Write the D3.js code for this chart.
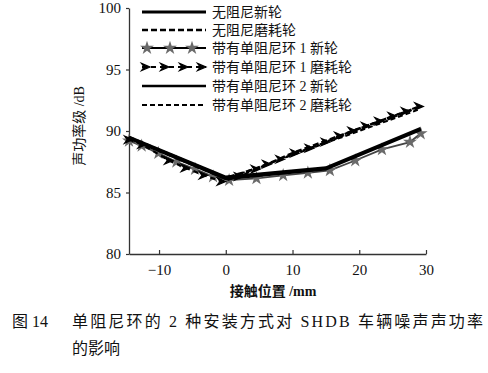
<!DOCTYPE html>
<html>
<head>
<meta charset="utf-8">
<script src="https://cdn.jsdelivr.net/npm/d3@7"></script>
<style>
  body { margin: 0; background: #fff; }
  text { font-family: "Liberation Serif", "Noto Sans CJK SC", serif; fill: #111; }
</style>
</head>
<body>
<script>
const width = 488;
const height = 373;

// series: x positions (mm) and sound power levels (dB)
const noDampNewX = [-14.5, 0, 5, 15, 29.2];
const noDampNewY = [89.5, 86.25, 86.5, 87.0, 90.2];
const noDampWornX = [-14.5, 0, 5, 10, 20, 29.2];
const noDampWornY = [89.5, 86.2, 87.0, 88.2, 90.2, 92.0];
const ring1NewX = [-14.5, -12.6, -10.1, -7.4, -4.6, -1.9, 0.5, 4.6, 8.6, 12.3, 15.6, 19.4, 23.4, 27.6, 29.2];
const ring1NewY = [89.2, 88.8, 88.2, 87.5, 86.9, 86.3, 86.0, 86.15, 86.4, 86.6, 86.8, 87.6, 88.5, 89.1, 89.8];
const ring1WornX = [-14.5, -12.5, -8.5, -6, -3.3, -0.6, 2, 4.5, 6.2, 8.2, 10.4, 12.6, 15, 17, 19, 21, 23, 25, 27, 29];
const ring1WornY = [89.3, 88.9, 87.6, 87.0, 86.4, 85.9, 86.3, 86.9, 87.3, 87.7, 88.2, 88.6, 89.1, 89.6, 90.0, 90.4, 90.8, 91.2, 91.6, 92.0];
const ring2NewX = [-14.5, 0, 15, 29.2];
const ring2NewY = [89.4, 86.1, 86.9, 90.1];
const ring2WornX = [-14.5, 0, 29.2];
const ring2WornY = [89.4, 86.1, 91.8];

const seriesNames = [
  "无阻尼新轮",
  "无阻尼磨耗轮",
  "带有单阻尼环 1 新轮",
  "带有单阻尼环 1 磨耗轮",
  "带有单阻尼环 2 新轮",
  "带有单阻尼环 2 磨耗轮"
];
const xTicks = [-10, 0, 10, 20, 30];
const yTicks = [80, 85, 90, 95, 100];

const zip = (xs, ys) => xs.map((x, i) => [x, ys[i]]);

const series = [
  { name: seriesNames[0], data: zip(noDampNewX, noDampNewY), width: 3.2, dash: null, marker: null },
  { name: seriesNames[1], data: zip(noDampWornX, noDampWornY), width: 2.6, dash: "6,3", marker: null },
  { name: seriesNames[2], data: zip(ring1NewX, ring1NewY), width: 1.8, dash: null, marker: "star" },
  { name: seriesNames[3], data: zip(ring1WornX, ring1WornY), width: 2.2, dash: "5,4", marker: "arrow" },
  { name: seriesNames[4], data: zip(ring2NewX, ring2NewY), width: 2.6, dash: null, marker: null },
  { name: seriesNames[5], data: zip(ring2WornX, ring2WornY), width: 2, dash: "5,3", marker: null }
];

const x = d3.scaleLinear().domain([-14.5, 30]).range([129, 426]);
const y = d3.scaleLinear().domain([80, 100]).range([254, 8]);

const svg = d3.select("body").append("svg")
  .attr("width", width)
  .attr("height", height);

// axes
const xAxis = svg.append("g")
  .attr("transform", "translate(0," + y(80) + ")")
  .call(d3.axisBottom(x).tickValues(xTicks).tickSizeInner(-4).tickSizeOuter(0)
    .tickFormat(d => d < 0 ? "\u2212" + Math.abs(d) : d));
xAxis.select(".domain").attr("stroke", "#333").attr("stroke-width", 1.3);
xAxis.selectAll(".tick line").attr("stroke", "#333").attr("stroke-width", 1.2);
xAxis.selectAll(".tick text").attr("y", 10).attr("font-size", 15);

const yAxis = svg.append("g")
  .attr("transform", "translate(" + x(-14.5) + ",0)")
  .call(d3.axisLeft(y).tickValues(yTicks).tickSizeInner(3).tickSizeOuter(0));
yAxis.select(".domain").attr("stroke", "#333").attr("stroke-width", 1.3);
yAxis.selectAll(".tick line").attr("stroke", "#333").attr("stroke-width", 1.2);
yAxis.selectAll(".tick text").attr("x", -8).attr("font-size", 15);
svg.selectAll(".tick text").style("font-family", "Liberation Serif").attr("fill", "#111");

// axis titles
svg.append("text")
  .attr("transform", "translate(84,126) rotate(-90)")
  .attr("text-anchor", "middle")
  .attr("font-size", 14)
  .text("声功率级 /dB");

svg.append("text")
  .attr("x", 273)
  .attr("y", 296)
  .attr("text-anchor", "middle")
  .attr("font-size", 14)
  .attr("font-weight", "bold")
  .text("接触位置 /mm");

// lines
const line = d3.line().x(d => x(d[0])).y(d => y(d[1]));
const star = d3.symbol().type(d3.symbolStar).size(60);
const arrowPath = "M-4.5,-3.6 L4,0 L-4.5,3.6 L-1.8,0 Z";

const plot = svg.append("g");

function drawMarker(g, type, px, py) {
  if (type === "star") {
    g.append("path")
      .attr("d", star())
      .attr("transform", "translate(" + px + "," + py + ")")
      .attr("fill", "#6a6a6a");
  } else if (type === "arrow") {
    g.append("path")
      .attr("d", arrowPath)
      .attr("transform", "translate(" + px + "," + py + ")")
      .attr("fill", "#000")
      .attr("stroke", "#000")
      .attr("stroke-width", 1.2);
  }
}

// draw marker series first so the solid lines sit over them
[2, 3, 5, 1, 4, 0].forEach(i => {
  const s = series[i];
  plot.append("path")
    .datum(s.data)
    .attr("d", line)
    .attr("fill", "none")
    .attr("stroke", i === 2 ? "#444" : "#000")
    .attr("stroke-width", s.width)
    .attr("stroke-dasharray", s.dash);
  if (s.marker) {
    s.data.forEach(d => drawMarker(plot, s.marker, x(d[0]), y(d[1])));
  }
});

// legend
const legendY = [12, 30, 48, 67, 86, 105];
const legend = svg.append("g");
series.forEach((s, i) => {
  const ly = legendY[i];
  legend.append("line")
    .attr("x1", 142).attr("x2", 206)
    .attr("y1", ly).attr("y2", ly)
    .attr("stroke", "#000")
    .attr("stroke-width", s.width)
    .attr("stroke-dasharray", s.dash);
  if (s.marker === "star") {
    [147, 170, 192].forEach(mx => drawMarker(legend, "star", mx, ly));
  } else if (s.marker === "arrow") {
    [146, 165, 184, 202].forEach(mx => drawMarker(legend, "arrow", mx, ly));
  }
  legend.append("text")
    .attr("x", 212)
    .attr("y", ly + 5)
    .attr("font-size", 14)
    .text(s.name);
});

// caption
svg.append("text")
  .attr("x", 12)
  .attr("y", 327)
  .attr("font-size", 16)
  .text("图 14");

svg.append("text")
  .attr("x", 72)
  .attr("y", 327)
  .attr("font-size", 16)
  .attr("textLength", 411)
  .attr("lengthAdjust", "spacing")
  .text("单阻尼环的 2 种安装方式对 SHDB 车辆噪声声功率");

svg.append("text")
  .attr("x", 72)
  .attr("y", 354)
  .attr("font-size", 16)
  .text("的影响");
</script>
</body>
</html>
